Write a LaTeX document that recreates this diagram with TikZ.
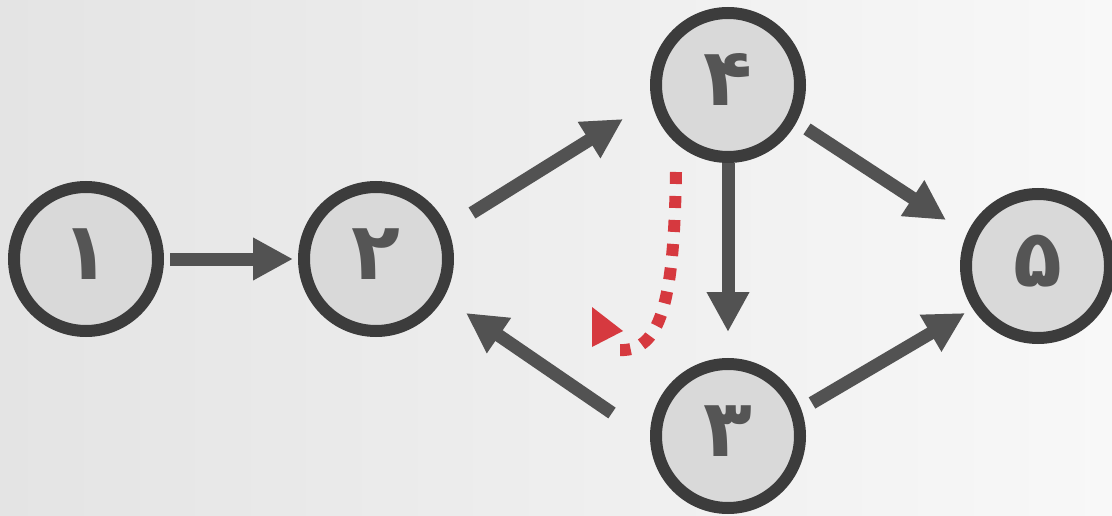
\documentclass[tikz,border=0pt]{standalone}
\usepackage{fontspec}
\usetikzlibrary{arrows.meta,calc}
\newfontfamily\fadigits[Script=Arabic]{DejaVu Sans}
\definecolor{ringcol}{HTML}{3C3C3C}
\definecolor{fillcol}{HTML}{D9D9D9}
\definecolor{digitcol}{HTML}{555555}
\definecolor{arrowcol}{HTML}{525252}
\definecolor{redcol}{HTML}{D6393F}
\definecolor{bgleft}{HTML}{E4E4E4}
\definecolor{bgright}{HTML}{F8F8F8}
\tikzset{
  state/.style={circle, draw=ringcol, fill=fillcol, line width=12pt,
    minimum size=144pt, inner sep=0pt, text=digitcol,
    font=\fadigits\bfseries\fontsize{80}{80}\selectfont},
  flow/.style={draw=arrowcol, line width=13pt,
    -{Triangle[length=40pt,width=40pt]}},
  hint/.style={draw=redcol, line width=12pt, dash pattern=on 12pt off 12pt}
}
\newcommand{\dig}[1]{\raisebox{10pt}{#1}}
\begin{document}
\begin{tikzpicture}[x=1pt,y=-1pt]
  \useasboundingbox (0,0) rectangle (1112,516);
  \shade[left color=bgleft, right color=bgright] (0,0) rectangle (1112,516);

  \node[state] (n1) at (86,259) {\dig{۱}};
  \node[state] (n2) at (376,259) {\dig{۲}};
  \node[state] (n4) at (728,85) {\dig{۴}};
  \node[state] (n3) at (728,436) {\dig{۳}};
  \node[state] (n5) at (1038,266) {\dig{۵}};

  \draw[flow] ($(n1)+(84,0)$) -- ($(n2)+(-83,0)$);
  \draw[flow] ($(n2)+(96,-46)$) -- ($(n4)+(-105,34)$);
  \draw[flow] ($(n4)+(0,78)$) -- ($(n3)+(0,-104)$);
  \draw[flow] ($(n4)+(79,44)$) -- ($(n5)+(-92,-46)$);
  \draw[flow] ($(n3)+(84,-33)$) -- ($(n5)+(-73,47)$);
  \draw[flow] ($(n3)+(-116,-23)$) -- ($(n2)+(90,54)$);

  \coordinate (r1) at (676,172);
  \coordinate (r2) at (620,350);
  \draw[hint] (r1) .. controls (674,290) and (664,352) .. (r2);
  \fill[redcol] (623,331) -- (592,307) -- (592,347) -- cycle;
\end{tikzpicture}
\end{document}
